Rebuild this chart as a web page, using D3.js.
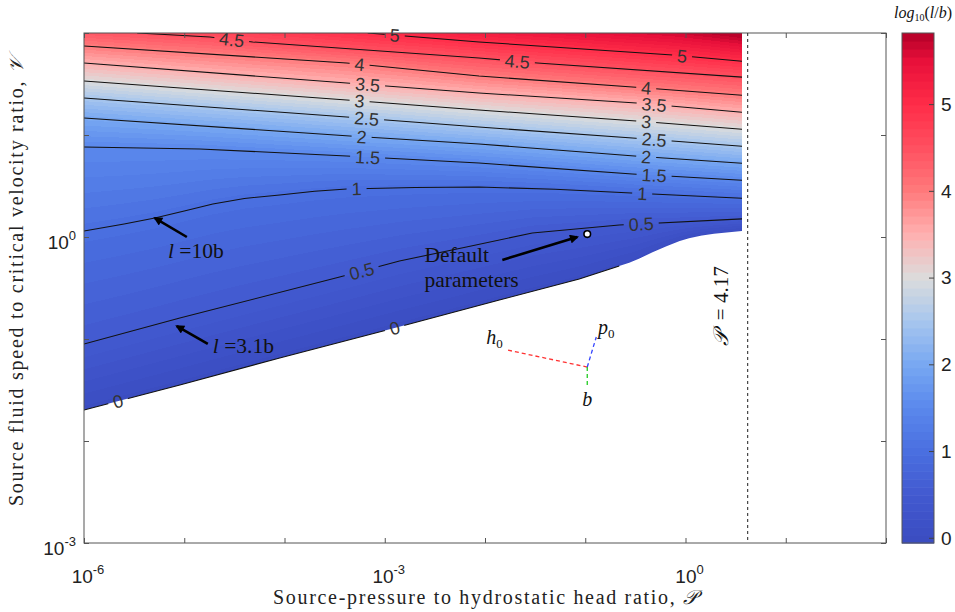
<!DOCTYPE html>
<html><head><meta charset="utf-8">
<script src="https://cdn.jsdelivr.net/npm/d3@7"></script>
<style>body{margin:0;background:#fff} svg{display:block}</style>
</head><body>
<svg id="chart" width="955" height="612"></svg>
<script>
// ---------------- DATA (log10 P, log10 V) ----------------
const levels = [0, 0.5, 1, 1.5, 2, 2.5, 3, 3.5, 4, 4.5, 5];
const c0   = [[-6.0,-1.696],[-5.044,-1.451],[-4.048,-1.186],[-2.902,-0.892],[-1.857,-0.618],[-1.060,-0.412],[-0.661,-0.284]];
const boundaryTail = [[-0.560,-0.252],[-0.462,-0.212],[-0.330,-0.150],[-0.193,-0.092],[-0.060,-0.040],[0.036,-0.012],[0.160,0.014],[0.285,0.032],[0.564,0.059]];
const c05  = [[-6.0,-1.049],[-5.044,-0.794],[-3.450,-0.392],[-2.853,-0.235],[-2.185,-0.098],[-1.528,0.039],[-0.661,0.118],[0.564,0.178]];
const c1   = [[-6.0,0.059],[-5.600,0.128],[-5.293,0.186],[-5.000,0.255],[-4.715,0.324],[-4.400,0.378],[-4.048,0.412],[-3.700,0.448],[-3.380,0.471],[-2.700,0.486],[-2.060,0.490],[-1.300,0.468],[-0.542,0.431],[0.564,0.380]];
const c15  = [[-6.0,0.882],[-4.845,0.863],[-3.380,0.794],[-2.060,0.725],[-0.530,0.618],[0.564,0.557]];
const c2   = [[-6.0,1.167],[-3.350,0.990],[-2.060,0.912],[-0.510,0.794],[0.564,0.723]];
const c25  = [[-6.0,1.363],[-3.380,1.176],[-2.060,1.078],[-0.530,0.971],[0.564,0.890]];
const c3   = [[-6.0,1.529],[-3.380,1.343],[-2.060,1.245],[-0.490,1.137],[0.564,1.057]];
const c35  = [[-6.0,1.706],[-3.380,1.510],[-2.060,1.412],[-0.490,1.314],[0.564,1.223]];
const c4   = [[-6.0,1.873],[-3.380,1.706],[-2.060,1.578],[-0.530,1.471],[0.564,1.390]];
const c45  = [[-5.470,2.0],[-4.745,1.961],[-4.317,1.912],[-2.060,1.755],[-1.478,1.706],[0.564,1.567]];
const c5   = [[-3.170,2.0],[-2.060,1.912],[-0.130,1.784],[0.564,1.723]];
const contourLines = [c0, c05, c1, c15, c2, c25, c3, c35, c4, c45, c5];
// contour label positions: [level, log10 P]
const contourLabels = [[0,-5.661],[0,-2.902],[0.5,-3.231],[0.5,-0.442],[1,-3.281],[1,-0.432],
  [1.5,-3.171],[1.5,-0.313],[2,-3.231],[2,-0.392],[2.5,-3.181],[2.5,-0.313],[3,-3.251],[3,-0.392],
  [3.5,-3.171],[3.5,-0.313],[4,-3.251],[4,-0.392],[4.5,-4.526],[4.5,-1.677],[5,-2.900],[5,-0.034]];
const fieldEdge = 0.564;          // log10 P where the computed field ends
const limitP = 4.17;              // dashed limit line
const defaultPoint = [-0.98, 0.029];
const xDecades = [-6,-5,-4,-3,-2,-1,0,1,2];
const xLabelDecades = [-6,-3,0];
const yDecades = [-3,-2,-1,0,1,2];
const yLabelDecades = [-3,0];
const cbTicks = [0,1,2,3,4,5];
const cbDomain = [-0.06, 5.82];
const cmapValues = [-0.06, 0.5, 1, 1.5, 2, 2.5, 3, 3.5, 4, 4.5, 5, 5.5, 5.82];
const cmapColors = ['#3a4cc0','#4259d0','#4a6fe0','#5a88ec','#78a8f2','#a7c6ee','#dcdcdc','#ffb0b0','#ff7a7c','#ff5060','#ff2c48','#e8103a','#b40028'];
const arrows = [
  {from:[-4.974,0.000], to:[-5.293,0.186]},
  {from:[-4.765,-1.049], to:[-5.074,-0.873]},
  {from:[-1.827,-0.225], to:[-1.080,0.000]}
];
const triadCenter = [-0.98,-1.275];
const triadArms = [
  {end:[-1.777,-1.108], color:'#ff3333', label:'h', at:[-1.906,-0.990]},
  {end:[-0.890,-0.980], color:'#3344ff', label:'p', at:[-0.791,-0.892]},
  {end:[-0.980,-1.480], color:'#22cc22', label:'b', at:[-0.980,-1.598]}
];

// ---------------- LAYOUT ----------------
const plot = {l:84, r:886, t:33, b:543};
const cb = {l:902, r:934, t:33, b:543};
const svg = d3.select('#chart');
const x = d3.scaleLog().domain([1e-6,1e2]).range([plot.l, plot.r]);
const y = d3.scaleLog().domain([1e-3,1e2]).range([plot.b, plot.t]);
const X = lp => x(Math.pow(10, lp));
const Y = lv => y(Math.pow(10, lv));
const cmap = d3.scaleLinear().domain(cmapValues).range(cmapColors).interpolate(d3.interpolateRgb).clamp(true);
const NC = 64;
const qColor = v => {
  let i = Math.floor((v - cbDomain[0]) / (cbDomain[1] - cbDomain[0]) * NC);
  i = Math.max(0, Math.min(NC - 1, i));
  return cmap(cbDomain[0] + (i + 0.5) * (cbDomain[1] - cbDomain[0]) / NC);
};
function interp(poly, lp) {
  let i = 0;
  if (lp <= poly[0][0]) i = 0;
  else if (lp >= poly[poly.length-1][0]) i = poly.length - 2;
  else { while (poly[i+1][0] < lp) i++; }
  const [a0,b0] = poly[i], [a1,b1] = poly[i+1];
  return b0 + (b1 - b0) * (lp - a0) / (a1 - a0);
}

// ---------------- FIELD (canvas image) ----------------
const boundary = c0.concat(boundaryTail);
const fieldLines = [boundary].concat(contourLines.slice(1));
const fx0 = plot.l, fx1 = Math.round(X(fieldEdge));
const cw = fx1 - fx0, ch = plot.b - plot.t;
const canvas = document.createElement('canvas');
canvas.width = cw; canvas.height = ch;
const ctx = canvas.getContext('2d');
const img = ctx.createImageData(cw, ch);
const colorCache = {};
const n = levels.length;
for (let cx = 0; cx < cw; cx++) {
  const lp = Math.log10(x.invert(fx0 + cx + 0.5));
  const ys = fieldLines.map(p => Y(interp(p, lp)));
  for (let cy = 0; cy < ch; cy++) {
    const py = plot.t + cy + 0.5;
    const a = Math.max(0, Math.min(1, ys[0] - (py - 0.5)));
    if (a <= 0) continue;
    let v;
    if (py <= ys[n-1]) {
      v = levels[n-1] + (ys[n-1] - py) / (ys[n-2] - ys[n-1]) * (levels[n-1] - levels[n-2]);
    } else {
      let k = 0;
      while (k < n - 2 && py < ys[k+1]) k++;
      v = levels[k] + (ys[k] - py) / (ys[k] - ys[k+1]) * (levels[k+1] - levels[k]);
    }
    const col = qColor(v);
    let rgb = colorCache[col];
    if (!rgb) { rgb = d3.rgb(col); colorCache[col] = rgb; }
    const o = (cy * cw + cx) * 4;
    img.data[o] = rgb.r; img.data[o+1] = rgb.g; img.data[o+2] = rgb.b; img.data[o+3] = Math.round(a * 255);
  }
}
ctx.putImageData(img, 0, 0);
svg.append('image').attr('x', fx0).attr('y', plot.t).attr('width', cw).attr('height', ch)
  .attr('href', canvas.toDataURL());

// ---------------- CONTOURS ----------------
const defs = svg.append('defs');
defs.append('clipPath').attr('id','fieldClip').append('rect')
  .attr('x', plot.l).attr('y', plot.t).attr('width', fx1 - plot.l).attr('height', plot.b - plot.t);
const mask = defs.append('mask').attr('id','labelMask').attr('maskUnits','userSpaceOnUse')
  .attr('x',0).attr('y',0).attr('width',955).attr('height',612);
mask.append('rect').attr('x',0).attr('y',0).attr('width',955).attr('height',612).attr('fill','#fff');

const line = d3.line().x(d => X(d[0])).y(d => Y(d[1]));
const cg = svg.append('g').attr('clip-path','url(#fieldClip)');
cg.append('g').attr('mask','url(#labelMask)').selectAll('path').data(contourLines).join('path')
  .attr('d', line).attr('fill','none').attr('stroke','#111').attr('stroke-width',1.1);

const lg = svg.append('g');
contourLabels.forEach(([lev, lp]) => {
  const poly = contourLines[levels.indexOf(lev)];
  const px = X(lp), py = Y(interp(poly, lp));
  const dx = X(lp + 0.05) - X(lp - 0.05);
  const dy = Y(interp(poly, lp + 0.05)) - Y(interp(poly, lp - 0.05));
  const ang = Math.atan2(dy, dx) * 180 / Math.PI;
  const t = lg.append('text').attr('transform', `translate(${px},${py}) rotate(${ang})`)
    .attr('text-anchor','middle').attr('dy','0.36em')
    .attr('font-family','Liberation Sans, Arial, sans-serif').attr('font-size',18).attr('fill','#333')
    .text(String(lev));
  const w = t.node().getComputedTextLength();
  mask.append('rect').attr('transform', `translate(${px},${py}) rotate(${ang})`)
    .attr('x', -w/2 - 5).attr('y', -8).attr('width', w + 10).attr('height', 16).attr('fill','#000');
});

// ---------------- AXES ----------------
const axG = svg.append('g').attr('color','#444');
const decadeVals = a => a.map(d => Math.pow(10, d));
function styleAxis(g){ g.select('.domain').remove(); g.selectAll('line').attr('stroke','#555'); }
axG.append('g').attr('transform',`translate(0,${plot.b})`)
  .call(d3.axisBottom(x).tickValues(decadeVals(xDecades)).tickSizeInner(-5).tickSizeOuter(0).tickFormat('')).call(styleAxis);
axG.append('g').attr('transform',`translate(0,${plot.t})`)
  .call(d3.axisTop(x).tickValues(decadeVals(xDecades)).tickSizeInner(-5).tickSizeOuter(0).tickFormat('')).call(styleAxis);
axG.append('g').attr('transform',`translate(${plot.l},0)`)
  .call(d3.axisLeft(y).tickValues(decadeVals(yDecades)).tickSizeInner(-5).tickSizeOuter(0).tickFormat('')).call(styleAxis);
axG.append('g').attr('transform',`translate(${plot.r},0)`)
  .call(d3.axisRight(y).tickValues(decadeVals(yDecades)).tickSizeInner(-5).tickSizeOuter(0).tickFormat('')).call(styleAxis);
svg.append('rect').attr('x',plot.l).attr('y',plot.t).attr('width',plot.r-plot.l).attr('height',plot.b-plot.t)
  .attr('fill','none').attr('stroke','#555').attr('stroke-width',1);

const tickFont = 'Liberation Sans, Arial, sans-serif';
function powLabel(sel, exp) {
  sel.append('tspan').text('10');
  sel.append('tspan').attr('font-size',13).attr('dy',-9).text(String(exp));
}
xLabelDecades.forEach(d => {
  const t = svg.append('text').attr('x', X(d) + 4).attr('y', 583).attr('text-anchor','middle')
    .attr('font-family',tickFont).attr('font-size',19).attr('fill','#222');
  powLabel(t, d);
});
yLabelDecades.forEach(d => {
  const t = svg.append('text').attr('x', plot.l - 8).attr('y', Y(d) + 12).attr('text-anchor','end')
    .attr('font-family',tickFont).attr('font-size',19).attr('fill','#222');
  powLabel(t, d);
});

// axis titles
const serif = 'Liberation Serif, Times New Roman, serif';
const xt = svg.append('text').attr('x', 485).attr('y', 604).attr('text-anchor','middle')
  .attr('font-family',serif).attr('font-size',20).attr('fill','#222');
xt.append('tspan').text('Source-pressure to hydrostatic head ratio, ');
xt.append('tspan').attr('font-family','DejaVu Sans, sans-serif').attr('font-style','italic').text('\u{1D4AB}');
xt.attr('textLength', 424).attr('lengthAdjust','spacing');
const yt = svg.append('text').attr('transform','translate(23,281) rotate(-90)').attr('text-anchor','middle')
  .attr('font-family',serif).attr('font-size',20).attr('fill','#222');
yt.append('tspan').text('Source fluid speed to critical velocity ratio, ');
yt.append('tspan').attr('font-family','DejaVu Sans, sans-serif').attr('font-style','italic').text('\u{1D4B1}');
yt.attr('textLength', 450).attr('lengthAdjust','spacing');

// ---------------- LIMIT LINE & ANNOTATIONS ----------------
const xl = x(limitP);
svg.append('line').attr('x1',xl).attr('x2',xl).attr('y1',plot.t).attr('y2',plot.b)
  .attr('stroke','#333').attr('stroke-width',1.1).attr('stroke-dasharray','3,3');
const lt = svg.append('text').attr('transform',`translate(${xl-20},306) rotate(-90)`).attr('text-anchor','middle')
  .attr('font-family',serif).attr('font-size',21).attr('fill','#111').style('white-space','pre');
lt.append('tspan').attr('font-family','DejaVu Sans, sans-serif').attr('font-style','italic').text('\u{1D4AB}');
lt.append('tspan').text('\u00a0\u00a0= 4.17');

defs.append('marker').attr('id','ah').attr('viewBox','0 0 10 10').attr('refX',8).attr('refY',5)
  .attr('markerWidth',11).attr('markerHeight',9).attr('markerUnits','userSpaceOnUse').attr('orient','auto')
  .append('path').attr('d','M0,0 L10,5 L0,10 Z').attr('fill','#000');
svg.selectAll('line.arrow').data(arrows).join('line').attr('class','arrow')
  .attr('x1', d => X(d.from[0])).attr('y1', d => Y(d.from[1]))
  .attr('x2', d => X(d.to[0])).attr('y2', d => Y(d.to[1]))
  .attr('stroke','#000').attr('stroke-width',2.6).attr('marker-end','url(#ah)');

function annot(lp, lv, parts, size) {
  const t = svg.append('text').attr('x', X(lp)).attr('y', Y(lv))
    .attr('font-family',serif).attr('font-size',size || 21.5).attr('fill','#111');
  parts.forEach(p => { const s = t.append('tspan').text(p[0]); if (p[1]) s.attr('font-style','italic'); });
  return t;
}
annot(-5.163, -0.206, [['l',1],[' =10b',0]]);
annot(-4.715, -1.137, [['l',1],[' =3.1b',0]]);
annot(-2.604, -0.245, [['Default',0]]);
annot(-2.604, -0.490, [['parameters',0]]);

svg.append('circle').attr('cx', X(defaultPoint[0])).attr('cy', Y(defaultPoint[1])).attr('r',3.3)
  .attr('fill','#fff').attr('stroke','#000').attr('stroke-width',1.6);

// triad
triadArms.forEach(a => {
  svg.append('line').attr('x1',X(triadCenter[0])).attr('y1',Y(triadCenter[1]))
    .attr('x2',X(a.end[0])).attr('y2',Y(a.end[1]))
    .attr('stroke',a.color).attr('stroke-width',1.3).attr('stroke-dasharray','4,3');
  const t = svg.append('text').attr('x',X(a.at[0])).attr('y',Y(a.at[1]) + 6).attr('text-anchor','middle')
    .attr('font-family',serif).attr('font-size',20).attr('fill','#111');
  t.append('tspan').attr('font-style','italic').text(a.label);
  if (a.label !== 'b') t.append('tspan').attr('font-size',13).attr('dy',4).text('0');
});

// ---------------- COLORBAR ----------------
const cbY = d3.scaleLinear().domain(cbDomain).range([cb.b, cb.t]);
const steps = d3.range(NC);
const stepH = (cb.b - cb.t) / NC;
svg.append('g').selectAll('rect').data(steps).join('rect')
  .attr('x', cb.l).attr('width', cb.r - cb.l)
  .attr('y', i => cb.b - (i + 1) * stepH).attr('height', stepH + 0.6)
  .attr('fill', i => cmap(cbDomain[0] + (i + 0.5) * (cbDomain[1] - cbDomain[0]) / NC));
svg.append('rect').attr('x',cb.l).attr('y',cb.t).attr('width',cb.r-cb.l).attr('height',cb.b-cb.t)
  .attr('fill','none').attr('stroke','#555');
svg.append('g').attr('transform',`translate(${cb.r},0)`)
  .call(d3.axisRight(cbY).tickValues(cbTicks).tickSizeInner(-5).tickSizeOuter(0).tickFormat(''))
  .call(g => { g.select('.domain').remove(); g.selectAll('line').attr('stroke','#444'); });
svg.append('g').selectAll('text').data(cbTicks).join('text')
  .attr('x', cb.r + 7).attr('y', d => cbY(d)).attr('dy','0.36em')
  .attr('font-family',tickFont).attr('font-size',19).attr('fill','#222').text(d => d);
const cbt = svg.append('text').attr('x', 952).attr('y', 18).attr('text-anchor','end')
  .attr('font-family',serif).attr('font-size',16).attr('fill','#111');
cbt.append('tspan').attr('font-style','italic').text('log');
cbt.append('tspan').attr('font-size',10).attr('dy',3).text('10');
cbt.append('tspan').attr('dy',-3).text('(');
cbt.append('tspan').attr('font-style','italic').text('l');
cbt.append('tspan').text('/');
cbt.append('tspan').attr('font-style','italic').text('b');
cbt.append('tspan').text(')');
</script>
</body></html>
